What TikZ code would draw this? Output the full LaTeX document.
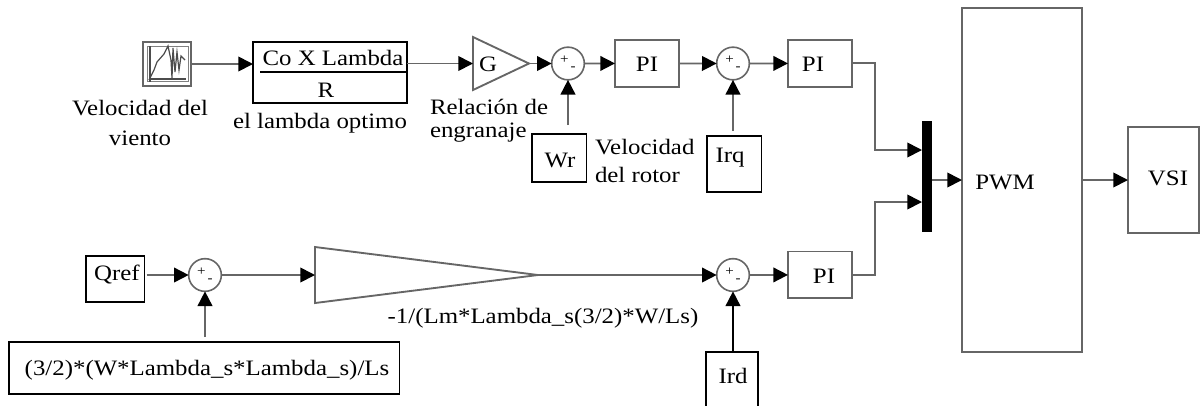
\documentclass[tikz,border=0pt]{standalone}
\usepackage{fontspec}
\setmainfont[FakeStretch=1.13]{Liberation Serif}
\usetikzlibrary{positioning,arrows.meta}

\begin{document}
\begin{tikzpicture}[x=0.75pt,y=-0.75pt,every node/.style={outer sep=0pt,inner sep=0pt,font=\fontsize{16.5}{20}\selectfont}]
\tikzstyle{block}=[draw,line width=1pt,anchor=north west]
\tikzstyle{grayblock}=[draw=black!60,line width=1.4pt,anchor=north west]
\tikzstyle{sumnode}=[draw=black!60,line width=1.2pt,circle,minimum size=24.5pt,font=\fontsize{10}{10}\selectfont]
\tikzstyle{wire}=[draw=black!60,line width=1.3pt,-{Triangle[length=11pt,width=11pt,black]}]
\tikzstyle{plain}=[draw=black!60,line width=1.4pt]
\tikzstyle{label}=[align=center]
\newcommand{\sumsigns}{\raisebox{1pt}{+}\kern1.5pt\raisebox{-4pt}{-}}

\useasboundingbox (0,0) rectangle (1200,405);

% fila superior
\node (wind) [grayblock,minimum width=36pt,minimum height=33pt] at (143,42) {};
\draw [black!50] (147,46) rectangle (188,81);
\draw [black!70,line width=0.9pt] (149,79) -- (186,79) (150,46) -- (150,82);
\draw [black!70,line width=0.9pt] (149,80) -- (154,70) -- (157,62) -- (164,54) -- (168,46) -- (171,60) -- (172,78) -- (173,48) -- (175,72) -- (177,52) -- (179,70) -- (181,56) -- (185,60);

\node (lambda) [block,minimum width=115.5pt,minimum height=45.75pt] at (253,42) {};
\node (lambdaup) at (333,58) {Co X Lambda};
\node (lambdadown) at (326,90) {R};
\coordinate (lambdabar) at (260,72);
\draw [line width=1pt] (lambdabar) -- (lambda.east |- lambdabar);

\coordinate (gainin) at (473,63.5);
\coordinate (gaintip) at (529,63.5);
\draw [plain] (473,37) -- (gaintip) -- (473,90) -- cycle;
\node (gainlabel) at (488,64) {G};

\node (sumw) [sumnode] at (568,63.5) {\sumsigns};
\node (pia) [grayblock,minimum width=48pt,minimum height=35pt] at (615,40) {};
\node (pialabel) at (647,64) {PI};
\node (sumq) [sumnode] at (733,63.5) {\sumsigns};
\node (pib) [grayblock,minimum width=48pt,minimum height=35pt] at (788,40) {};
\node (piblabel) at (813,64) {PI};

\node (wr) [block,minimum width=41pt,minimum height=36pt] at (532,134) {};
\node (wrlabel) at (560,160) {Wr};
\node (irq) [block,minimum width=41pt,minimum height=42pt] at (707,136) {};
\node (irqlabel) at (730,158) {Irq};
\coordinate (wrtop) at (568,125);
\coordinate (irqtop) at (733,131);

% fila inferior
\node (qref) [block,minimum width=44pt,minimum height=34.5pt] at (86,256) {};
\node (qreflabel) at (117,275) {Qref};
\node (sumr) [sumnode] at (205,275) {\sumsigns};
\node (comp) [block,minimum width=293pt,minimum height=39pt] at (9,342) {};
\node (complabel) at (207,370) {(3/2)*(W*Lambda\_s*Lambda\_s)/Ls};
\coordinate (comptop) at (205,337);
\coordinate (tria) at (315,275);
\coordinate (trib) at (538,275);
\draw [plain] (315,247) -- (trib) -- (315,303) -- cycle;
\node (sumd) [sumnode] at (733,275) {\sumsigns};
\node (pic) [grayblock,minimum width=48pt,minimum height=35pt] at (788,251.5) {};
\node (piclabel) at (824,276) {PI};
\node (ird) [block,minimum width=39pt,minimum height=50pt] at (706,352) {};
\node (irdlabel) at (733,376) {Ird};

% derecha
\node (mux) [fill=black,minimum width=7.5pt,minimum height=83pt,anchor=north west] at (922,121) {};
\node (pwm) [grayblock,minimum width=90pt,minimum height=258pt] at (962,8) {};
\node (pwmlabel) at (1005,182) {PWM};
\node (vsi) [grayblock,minimum width=53pt,minimum height=79.5pt] at (1128,127) {};
\node (vsilabel) at (1168,178) {VSI};
\coordinate (junct) at (875,150);
\coordinate (junctb) at (875,202);
\coordinate (muxout) at (932,180);

% etiquetas
\node (windtext) [label] at (140,123) {Velocidad del\\[2pt]viento};
\node (lambdatext) [label] at (320,123) {el lambda optimo};
\node (gaintext) [label,align=left,anchor=west] at (430,120.5) {Relación de\\[-3pt]engranaje};
\node (wrtext) [label,align=left,anchor=west] at (595,161) {Velocidad\\[1pt]del rotor};
\node (gainbtext) at (543,318) {-1/(Lm*Lambda\_s(3/2)*W/Ls)};

% conexiones
\draw [wire] (wind) -- (wind -| lambda.west);
\draw [wire] (lambda.east |- gainin) -- (gainin);
\draw [wire] (gaintip) -- (sumw);
\draw [wire] (sumw) -- (pia);
\draw [wire] (pia) -- (sumq);
\draw [wire] (sumq) -- (pib);
\draw [wire] (wrtop) -- (sumw);
\draw [wire] (irqtop) -- (sumq);
\draw [wire] (pib.east) -| (junct) -- (mux.west |- junct);
\draw [wire] (pic.east) -| (junctb) -- (mux.west |- junctb);
\draw [wire] (muxout) -- (pwm.west |- muxout);
\draw [wire] (pwm.east |- muxout) -- (vsi.west |- muxout);
\draw [wire,shorten <=1.5pt] (qref.east |- sumr) -- (sumr);
\draw [wire] (sumr) -- (tria);
\draw [wire] (comptop) -- (sumr);
\draw [wire] (trib) -- (sumd);
\draw [wire] (sumd) -- (pic);
\draw [wire,draw=black] (sumd |- ird.north) -- (sumd);
\end{tikzpicture}
\end{document}
